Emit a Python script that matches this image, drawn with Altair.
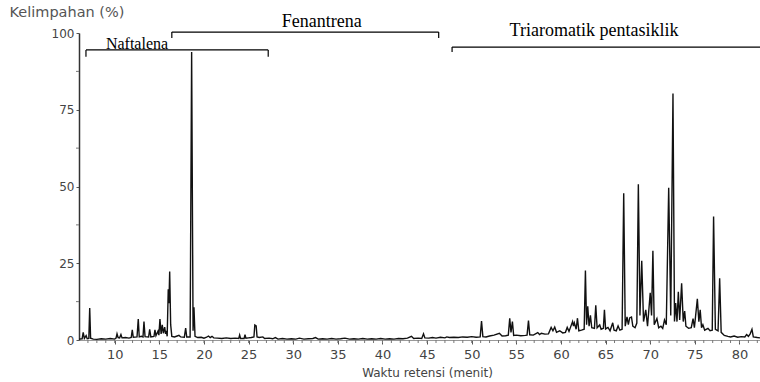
import altair as alt
import pandas as pd

# Chromatogram trace: (retention time in minutes, relative abundance in %)
trace_early = [
    (6.0, 0.3), (6.35, 0.4), (6.47, 2.5), (6.6, 0.5), (6.8, 1.4), (6.92, 0.4),
    (7.1, 0.5), (7.2, 10.4), (7.3, 0.6), (7.6, 0.3), (8.0, 0.2), (8.5, 0.4),
    (9.0, 0.3), (9.5, 0.5), (10.0, 0.3), (10.15, 0.6), (10.26, 2.0), (10.38, 0.8),
    (10.55, 0.7), (10.7, 1.8), (10.82, 0.7), (11.2, 0.8), (11.6, 0.6), (11.85, 0.8),
    (11.97, 3.3), (12.08, 0.9), (12.5, 1.0), (12.64, 6.8), (12.75, 1.0), (13.0, 1.2),
    (13.17, 1.0), (13.28, 6.0), (13.4, 1.1), (13.8, 1.0), (13.92, 3.5), (14.05, 1.0),
    (14.4, 1.2), (14.51, 3.3), (14.62, 1.4), (14.85, 2.9), (14.95, 1.6), (15.07, 6.8),
    (15.2, 2.0), (15.33, 4.9), (15.45, 2.2), (15.6, 4.2), (15.7, 2.0), (15.78, 3.0),
    (15.88, 1.2), (16.0, 16.5), (16.08, 12.0), (16.16, 22.3), (16.27, 5.0), (16.4, 1.2),
    (16.7, 1.0), (17.0, 1.3), (17.2, 1.5), (17.4, 1.0), (17.8, 0.9), (17.95, 3.9),
    (18.07, 1.0), (18.45, 1.0), (18.62, 93.8), (18.78, 3.0), (18.88, 10.7), (19.0, 1.2),
    (19.3, 0.8), (19.7, 0.9), (20.0, 0.6), (20.3, 0.9), (20.5, 1.3), (20.7, 0.8),
    (20.9, 1.2), (21.1, 0.7), (21.5, 0.6), (22.0, 0.5), (22.5, 0.7), (23.0, 0.5),
    (23.5, 0.6), (23.9, 0.5), (24.0, 1.6), (24.1, 0.5), (24.5, 0.5), (24.6, 1.7),
    (24.7, 0.6), (25.0, 0.7), (25.3, 0.8), (25.6, 1.0), (25.7, 4.9), (25.85, 4.6),
    (25.95, 1.0), (26.2, 0.8), (26.6, 1.0), (26.8, 0.5),
]
trace_middle = [
    (27.3, 0.6), (27.7, 0.4), (28.0, 0.8), (28.3, 0.3), (28.8, 0.5), (29.3, 0.3),
    (29.8, 0.4), (30.3, 0.3), (30.7, 0.6), (31.2, 0.3), (31.7, 0.4), (32.2, 0.5),
    (32.5, 0.8), (32.8, 0.3), (33.3, 0.4), (33.8, 0.3), (34.3, 0.5), (34.8, 0.3),
    (35.3, 0.4), (35.8, 0.6), (36.3, 0.3), (36.8, 0.4), (37.3, 0.3), (37.8, 0.5),
    (38.3, 0.3), (38.8, 0.4), (39.3, 0.3), (39.8, 0.5), (40.3, 0.3), (40.8, 0.4),
    (41.3, 0.3), (41.8, 0.5), (42.3, 0.4), (42.8, 0.6), (43.25, 1.2), (43.5, 0.5),
    (44.0, 0.6), (44.4, 0.5), (44.6, 2.0), (44.75, 0.7), (45.2, 0.6), (45.6, 0.8),
    (46.0, 0.6), (46.5, 0.9), (47.0, 0.7), (47.2, 1.0), (47.5, 0.8), (48.0, 0.9),
    (48.5, 0.8), (49.0, 1.0), (49.5, 0.9), (50.0, 1.1), (50.5, 0.9), (50.95, 1.0),
    (51.1, 6.2), (51.25, 1.1), (51.6, 1.0), (52.0, 1.3), (52.5, 1.6), (53.1, 2.2),
    (53.4, 1.3), (53.8, 1.4), (54.1, 1.6), (54.26, 7.1), (54.4, 2.5), (54.56, 6.0),
    (54.7, 1.5), (55.0, 1.6), (55.5, 1.4), (56.0, 1.5), (56.2, 1.6), (56.36, 6.3),
    (56.5, 1.7), (56.9, 1.6), (57.4, 2.4), (57.6, 1.8), (57.8, 2.2), (58.2, 1.9),
    (58.6, 2.0), (58.9, 4.1), (59.1, 3.0), (59.3, 4.2), (59.5, 2.5), (59.86, 3.0),
    (60.2, 2.3), (60.5, 2.5), (60.7, 4.1), (60.9, 2.8), (61.3, 6.0), (61.4, 4.5),
    (61.5, 5.6), (61.7, 3.5), (61.85, 7.1), (62.0, 3.0), (62.3, 3.2), (62.6, 3.5),
]
trace_late = [
    (62.74, 22.6), (62.87, 5.0), (63.0, 11.0), (63.15, 4.5), (63.3, 8.0), (63.45, 4.0),
    (63.75, 3.8), (63.9, 11.3), (64.05, 4.0), (64.34, 4.9), (64.5, 3.5), (64.75, 3.8),
    (64.87, 9.8), (65.0, 3.6), (65.27, 4.1), (65.5, 3.0), (65.8, 5.6), (65.95, 3.2),
    (66.2, 3.0), (66.4, 4.6), (66.6, 3.2), (66.85, 3.5), (67.03, 47.8), (67.2, 4.5),
    (67.4, 7.5), (67.55, 5.0), (67.7, 7.2), (67.9, 7.5), (68.05, 4.5), (68.3, 4.0),
    (68.5, 5.5), (68.67, 50.7), (68.85, 8.0), (69.05, 25.8), (69.25, 6.0), (69.5, 9.8),
    (69.7, 4.5), (70.0, 15.4), (70.15, 8.0), (70.3, 29.1), (70.45, 5.0), (70.75, 7.0),
    (70.95, 4.0), (71.2, 4.5), (71.4, 3.8), (71.6, 6.5), (71.8, 5.0), (72.07, 49.6),
    (72.3, 8.0), (72.55, 80.3), (72.72, 6.0), (72.85, 12.0), (73.0, 6.0), (73.15, 15.7),
    (73.3, 6.5), (73.52, 18.5), (73.7, 6.0), (73.86, 9.4), (74.0, 4.5), (74.3, 3.8),
    (74.6, 4.0), (74.8, 7.0), (74.95, 4.0), (75.28, 13.4), (75.45, 6.0), (75.6, 9.8),
    (75.75, 4.0), (75.9, 5.0), (76.1, 3.2), (76.47, 3.8), (76.7, 3.0), (76.95, 3.2),
    (77.1, 40.2), (77.3, 3.5), (77.6, 3.0), (77.78, 20.1), (77.95, 2.5), (78.3, 1.5),
    (78.7, 1.2), (79.0, 1.0), (79.4, 1.3), (79.8, 0.9), (80.2, 1.1), (80.6, 1.0),
    (80.8, 1.8), (81.0, 1.2), (81.2, 2.0), (81.4, 3.5), (81.55, 1.0), (82.0, 0.8),
    (82.3, 0.7),
]

# Compound-group brackets (data coordinates)
group_names = ["Naftalena", "Fenantrena", "Triaromatik pentasiklik"]
group_start = [6.78, 16.4, 47.8]
group_end = [27.2, 46.3, 82.3]
group_level = [94.5, 100.3, 95.4]
group_tick_bottom = [92.3, 98.4, 93.8]
group_end_tick = [True, True, False]
group_label_x = [12.5, 33.2, 63.7]
group_label_y = [96.4, 103.6, 100.6]
group_label_size = [16, 18, 18]

x_minor_ticks = list(range(7, 83))
x_major_ticks = [10, 15, 20, 25, 30, 35, 40, 45, 50, 55, 60, 65, 70, 75, 80]
y_minor_ticks = [12.5, 37.5, 62.5, 87.5]
y_major_ticks = [0, 25, 50, 75, 100]

rows = trace_early + trace_middle + trace_late
trace_df = pd.DataFrame(rows, columns=["t", "v"])

br_df = pd.DataFrame({
    "name": group_names, "t": group_start, "t2": group_end, "v": group_level,
})
tick_rows = []
for i in range(len(group_names)):
    tick_rows.append({"t": group_start[i], "v": group_level[i], "v2": group_tick_bottom[i]})
    if group_end_tick[i]:
        tick_rows.append({"t": group_end[i], "v": group_level[i], "v2": group_tick_bottom[i]})
tick_df = pd.DataFrame(tick_rows)
lab_df = pd.DataFrame({
    "name": group_names, "t": group_label_x, "v": group_label_y, "size": group_label_size,
})

xscale = alt.Scale(domain=[6, 82.3], nice=False, zero=False)
yscale = alt.Scale(domain=[0, 100], nice=False)

x_axis = alt.Axis(
    values=x_major_ticks, title="Waktu retensi (menit)",
    labelOverlap=False, labelFlush=False, grid=False,
    domainColor="#999999", ticks=True, tickColor="#555555", tickSize=4,
    labelFont="DejaVu Sans", labelFontSize=13, labelColor="#444444", labelPadding=4,
    titleFont="DejaVu Sans", titleFontSize=12, titleFontWeight="normal",
    titleColor="#444444", titleX=348, titlePadding=6,
)
y_axis = alt.Axis(
    values=y_major_ticks, title="Kelimpahan (%)",
    labelOverlap=False, grid=False,
    domainColor="#333333", domainWidth=1.5, ticks=True, tickColor="#555555", tickSize=3,
    labelFont="DejaVu Sans", labelFontSize=12, labelColor="#444444", labelPadding=2,
    titleFont="DejaVu Sans", titleFontSize=14.5, titleFontWeight="normal",
    titleColor="#555555", titleAngle=0, titleAlign="left", titleBaseline="middle",
    titleX=-70, titleY=-21,
)

X = lambda f: alt.X(f, type="quantitative", scale=xscale, axis=x_axis)
Y = lambda f: alt.Y(f, type="quantitative", scale=yscale, axis=y_axis)

line = alt.Chart(trace_df).mark_line(color="#111111", strokeWidth=1.4, strokeJoin="miter").encode(
    x=X("t"), y=Y("v"), order="t:Q",
)

# minor tick marks (below the x axis line, left of the y axis line)
xminor_df = pd.DataFrame({"t": x_minor_ticks})
yminor_df = pd.DataFrame({"v": y_minor_ticks})
xminor = alt.Chart(xminor_df).mark_rule(color="#777777", strokeWidth=1).encode(
    x=X("t"), y=alt.value(307), y2=alt.value(310),
)
yminor = alt.Chart(yminor_df).mark_rule(color="#777777", strokeWidth=1).encode(
    y=Y("v"), x=alt.value(-3), x2=alt.value(0),
)

hbars = alt.Chart(br_df).mark_rule(color="#000000", strokeWidth=1.2).encode(
    x=X("t"), x2="t2:Q", y=Y("v"),
)
vticks = alt.Chart(tick_df).mark_rule(color="#000000", strokeWidth=1.2).encode(
    x=X("t"), y=Y("v"), y2="v2:Q",
)
labels = alt.Chart(lab_df).mark_text(font="Liberation Serif", color="#000000", baseline="middle").encode(
    x=X("t"), y=Y("v"), text="name:N",
    size=alt.Size("size:Q", scale=None, legend=None),
)

chart = alt.layer(line, xminor, yminor, hbars, vticks, labels).properties(
    width=681, height=307,
    autosize=alt.AutoSizeParams(type="none"),
    padding={"left": 79, "top": 33, "right": 0, "bottom": 42},
    background="white",
).configure_view(stroke=None)

chart.save("out.html", embed_options={"renderer": "svg", "actions": False})
